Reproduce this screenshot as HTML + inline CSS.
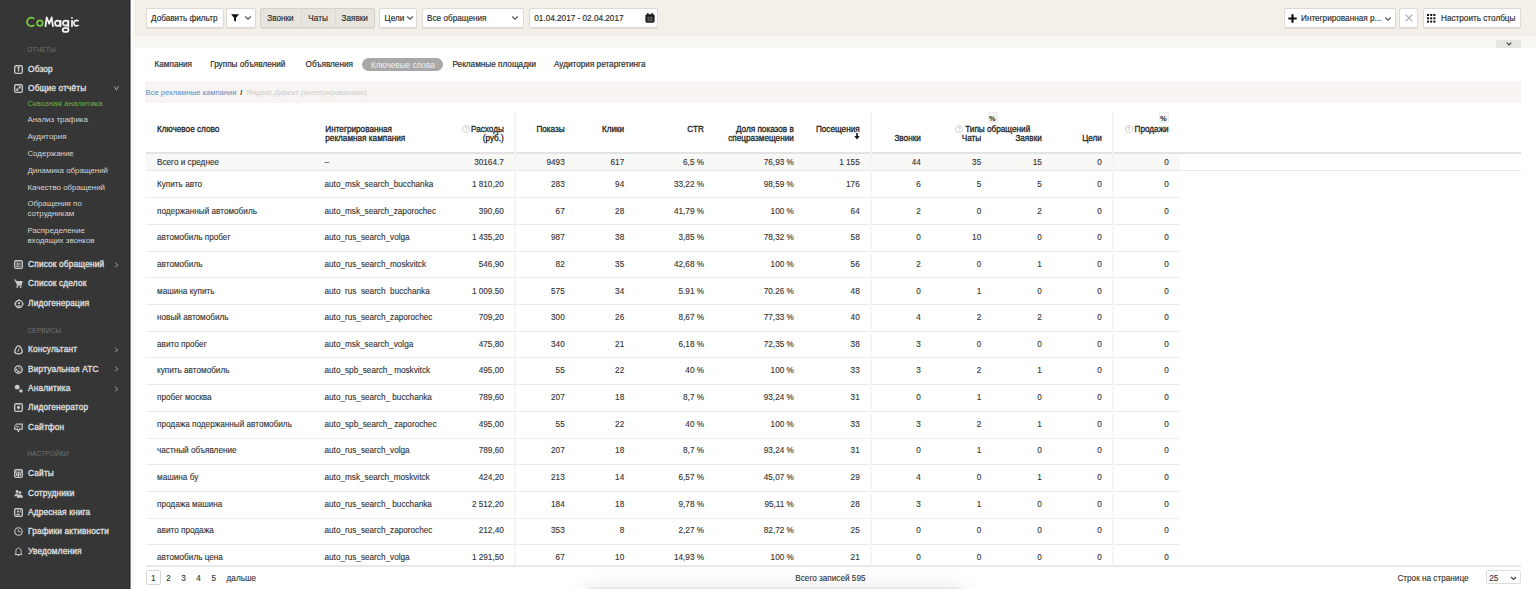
<!DOCTYPE html>
<html><head><meta charset="utf-8"><style>
html,body{margin:0;padding:0;}
body{width:1536px;height:589px;overflow:hidden;position:relative;background:#fff;font-family:"Liberation Sans", sans-serif;}
.t{position:absolute;white-space:nowrap;line-height:12px;height:12px;}
.r{text-align:right;}
.u{font-style:normal;color:transparent;-webkit-text-stroke:0 transparent;}
.d{color:#333;-webkit-text-stroke:0.12px #333;}
.h{color:#1e1e1e;-webkit-text-stroke:0.28px #1e1e1e;}
#sb{position:absolute;left:0;top:0;width:131px;height:589px;background:#363636;}
.logo{font-size:14.6px;line-height:18px;height:18px;letter-spacing:-0.2px;transform:scaleX(0.92);transform-origin:0 0;}
.logo span{-webkit-text-stroke:0.55px currentColor;}
.sec{color:#727272;letter-spacing:0.15px;}
.mi{color:#e0e0e0;-webkit-text-stroke:0.3px #e0e0e0;letter-spacing:0.15px;}
.si{color:#d3d3d3;}
.icon{position:absolute;width:9px;height:9px;}
.icon svg{display:block;}
.arr{position:absolute;}
#top{position:absolute;left:133.5px;top:0;width:1402.5px;height:35.7px;background:#f3f0e9;}
#band{position:absolute;left:133.5px;top:35.7px;width:1402.5px;height:12.3px;background:#f8f6f2;border-top:1.3px solid #fcfbf8;box-sizing:border-box;}
.grp{border-color:#d5d2ca !important;}
.btn{position:absolute;box-sizing:border-box;border:1px solid #dedad3;border-radius:2px;box-shadow:0 0.6px 0.8px rgba(0,0,0,0.08);}
.bt{color:#2a2a2a;-webkit-text-stroke:0.15px #2a2a2a;}
.tab{color:#2a2a2a;-webkit-text-stroke:0.18px #2a2a2a;}
.tabw{color:#f0f0f0;}
.bc{}
</style></head><body>
<div id="sb"></div><div style="position:absolute;left:129px;top:0;width:1.3px;height:589px;background:#2a2a2a"></div><div style="position:absolute;left:130.3px;top:0;width:0.9px;height:589px;background:#8a8a8a"></div><div style="position:absolute;left:131px;top:0;width:2.5px;height:589px;background:#fbfaf8"></div>
<svg width="131" height="40" viewBox="0 0 131 40" style="position:absolute;left:0;top:0"><g fill="none" stroke-width="1.75" stroke-linecap="butt" stroke-linejoin="round"><g stroke="#78c93c"><path d="M34.4 19.0 A4.25 4.25 0 1 0 34.4 24.8"/><circle cx="39.9" cy="23.1" r="2.85"/></g><g stroke="#f2f2f2"><path d="M45.4 26.9 L46.7 17.4 L49.2 23.8 L51.7 17.4 L53.0 26.9"/><circle cx="57.7" cy="23.2" r="2.7"/><path d="M60.5 20.1 V26.9"/><circle cx="65.6" cy="23.1" r="2.6"/><path d="M68.3 20.1 V27.5"/><ellipse cx="65.6" cy="29.9" rx="2.9" ry="2.0"/><path d="M72.0 20.1 V26.9"/><circle cx="72.0" cy="17.9" r="0.9" fill="#f2f2f2" stroke="none"/><path d="M78.6 21.2 A2.75 2.75 0 1 0 78.6 25.0"/></g></g></svg>
<div class="t sec" style="left:27.2px;top:44.00px;font-size:6.6px;">ОТЧЕТЫ</div>
<div class="icon" style="left:14px;top:64.70px"><svg width="9" height="9" viewBox="0 0 9 9"><rect x="0.7" y="0.7" width="7.6" height="7.6" rx="1.4" fill="none" stroke="#c9c9c9" stroke-width="1.35"/><path d="M3.4 2.6H5.6M4.5 2.6V6.5" fill="none" stroke="#c9c9c9" stroke-width="1.2"/></svg></div>
<div class="t mi" style="left:28.1px;top:63.00px;font-size:8.3px;">Обзор</div>
<div class="icon" style="left:14px;top:84.20px"><svg width="9" height="9" viewBox="0 0 9 9"><rect x="0.7" y="0.7" width="7.6" height="7.6" rx="1.4" fill="none" stroke="#c9c9c9" stroke-width="1.35"/><path d="M4.6 2.2H6.8V4.4H4.6ZM2.2 4.6H4.4V6.8H2.2Z" fill="#c9c9c9"/></svg></div>
<div class="t mi" style="left:28.1px;top:82.00px;font-size:8.3px;">Общие отчёты</div>
<svg class="arr" width="5" height="5" viewBox="0 0 5 5" style="left:113.6px;top:86.10px"><path d="M0.4 0.3L2.4 4.2L4.4 0.3" fill="none" stroke="#a5a5a5" stroke-width="0.95"/></svg>
<div class="t si" style="left:27.4px;top:98.00px;font-size:7.95px;color:#6cb33f">Сквозная аналитика</div>
<div class="t si" style="left:27.4px;top:114.00px;font-size:7.95px;">Анализ трафика</div>
<div class="t si" style="left:27.4px;top:131.00px;font-size:7.95px;">Аудитория</div>
<div class="t si" style="left:27.4px;top:148.00px;font-size:7.95px;">Содержание</div>
<div class="t si" style="left:27.4px;top:165.00px;font-size:7.95px;">Динамика обращений</div>
<div class="t si" style="left:27.4px;top:182.00px;font-size:7.95px;">Качество обращений</div>
<div class="t si" style="left:27.4px;top:198.00px;font-size:7.95px;">Обращения по</div>
<div class="t si" style="left:27.4px;top:208.00px;font-size:7.95px;">сотрудникам</div>
<div class="t si" style="left:27.4px;top:225.00px;font-size:7.95px;">Распределение</div>
<div class="t si" style="left:27.4px;top:235.00px;font-size:7.95px;">входящих звонков</div>
<div class="icon" style="left:14px;top:260.30px"><svg width="9" height="9" viewBox="0 0 9 9"><rect x="0.7" y="0.7" width="7.6" height="7.6" rx="1.4" fill="none" stroke="#c9c9c9" stroke-width="1.35"/><path d="M2 3.2H7M2 4.8H7M2 6.4H7M3.8 2.5V7.5" stroke="#c9c9c9" stroke-width="0.7"/></svg></div>
<div class="t mi" style="left:28.1px;top:258.00px;font-size:8.3px;">Список обращений</div>
<svg class="arr" width="5" height="6" viewBox="0 0 5 6" style="left:114px;top:261.80px"><path d="M0.8 0.8L4 3L0.8 5.2" fill="none" stroke="#9a9a9a" stroke-width="0.9"/></svg>
<div class="icon" style="left:14px;top:279.40px"><svg width="9" height="9" viewBox="0 0 9 9"><path d="M0.2 0.6H1.9L2.5 1.9H8.7L7.7 5.9H3.1Z" fill="#c9c9c9"/><rect x="2.2" y="6.3" width="5.4" height="0.9" fill="#c9c9c9"/><circle cx="3.3" cy="8.1" r="0.85" fill="#c9c9c9"/><circle cx="6.7" cy="8.1" r="0.85" fill="#c9c9c9"/></svg></div>
<div class="t mi" style="left:28.1px;top:277.00px;font-size:8.3px;">Список сделок</div>
<div class="icon" style="left:14px;top:298.90px"><svg width="10" height="10" viewBox="0 0 10 10"><circle cx="5" cy="5" r="3.6" fill="none" stroke="#c9c9c9" stroke-width="1.2"/><path d="M0 5L1.5 3.8V6.2ZM10 5L8.5 3.8V6.2ZM5 0L3.8 1.5H6.2Z" fill="#c9c9c9"/><circle cx="5" cy="4.2" r="1.1" fill="#c9c9c9"/><path d="M2.6 7.6C3 5.8 7 5.8 7.4 7.6Z" fill="#c9c9c9"/></svg></div>
<div class="t mi" style="left:28.1px;top:297.00px;font-size:8.3px;">Лидогенерация</div>
<div class="t sec" style="left:27.2px;top:325.00px;font-size:6.6px;">СЕРВИСЫ</div>
<div class="icon" style="left:14px;top:345.30px"><svg width="9" height="10" viewBox="0 0 9 10"><path d="M4.5 0.9C6.3 0.9 8.2 4.6 8.2 6.7C8.2 8.3 6.9 8.8 4.5 8.8S0.8 8.3 0.8 6.7C0.8 4.6 2.7 0.9 4.5 0.9Z" fill="none" stroke="#c9c9c9" stroke-width="1.35"/><path d="M5 3.4L3.9 6.8" stroke="#c9c9c9" stroke-width="0.9"/></svg></div>
<div class="t mi" style="left:28.1px;top:343.00px;font-size:8.3px;">Консультант</div>
<svg class="arr" width="5" height="6" viewBox="0 0 5 6" style="left:114px;top:346.80px"><path d="M0.8 0.8L4 3L0.8 5.2" fill="none" stroke="#9a9a9a" stroke-width="0.9"/></svg>
<div class="icon" style="left:14px;top:364.60px"><svg width="9" height="9" viewBox="0 0 9 9"><circle cx="4.5" cy="4.5" r="3.7" fill="none" stroke="#c9c9c9" stroke-width="1.35"/><path d="M2.4 3.6C2.8 5.6 4.2 6.6 5.8 6.7" fill="none" stroke="#c9c9c9" stroke-width="1.1"/><path d="M4.2 2.6C5.2 2.8 6.2 3.6 6.5 4.6" fill="none" stroke="#c9c9c9" stroke-width="0.8"/></svg></div>
<div class="t mi" style="left:28.1px;top:363.00px;font-size:8.3px;">Виртуальная АТС</div>
<svg class="arr" width="5" height="6" viewBox="0 0 5 6" style="left:114px;top:366.10px"><path d="M0.8 0.8L4 3L0.8 5.2" fill="none" stroke="#9a9a9a" stroke-width="0.9"/></svg>
<div class="icon" style="left:14px;top:384.10px"><svg width="9" height="9" viewBox="0 0 9 9"><circle cx="3.2" cy="3.2" r="2.4" fill="#c9c9c9"/><circle cx="6.9" cy="6.9" r="1.7" fill="#c9c9c9"/></svg></div>
<div class="t mi" style="left:28.1px;top:382.00px;font-size:8.3px;">Аналитика</div>
<svg class="arr" width="5" height="6" viewBox="0 0 5 6" style="left:114px;top:385.60px"><path d="M0.8 0.8L4 3L0.8 5.2" fill="none" stroke="#9a9a9a" stroke-width="0.9"/></svg>
<div class="icon" style="left:14px;top:403.40px"><svg width="9" height="9" viewBox="0 0 9 9"><rect x="0.7" y="0.7" width="7.6" height="7.6" rx="1.4" fill="none" stroke="#c9c9c9" stroke-width="1.35"/><path d="M4.5 2.2L6.3 4.5L4.5 6.8L2.7 4.5Z" fill="#c9c9c9"/></svg></div>
<div class="t mi" style="left:28.1px;top:401.00px;font-size:8.3px;">Лидогенератор</div>
<div class="icon" style="left:14px;top:422.90px"><svg width="9" height="9" viewBox="0 0 9 9"><path d="M2.2 1.2H8.2V6.2H5.4L4.4 8.4L3.4 6.2H0.8V3.6" fill="none" stroke="#c9c9c9" stroke-width="1.25"/><path d="M1 1.4L2.6 3.8H5.6" fill="none" stroke="#c9c9c9" stroke-width="1"/></svg></div>
<div class="t mi" style="left:28.1px;top:421.00px;font-size:8.3px;">Сайтфон</div>
<div class="t sec" style="left:27.2px;top:448.00px;font-size:6.6px;">НАСТРОЙКИ</div>
<div class="icon" style="left:14px;top:469.30px"><svg width="9" height="9" viewBox="0 0 9 9"><rect x="0.7" y="0.7" width="7.6" height="7.6" rx="1.4" fill="none" stroke="#c9c9c9" stroke-width="1.35"/><path d="M1 3.1H8M4.5 3.1V8" stroke="#c9c9c9" stroke-width="1"/><path d="M2 4.2H3.6V6.8H2ZM5.4 4.2H7V6.8H5.4Z" fill="#c9c9c9"/></svg></div>
<div class="t mi" style="left:28.1px;top:467.00px;font-size:8.3px;">Сайты</div>
<div class="icon" style="left:14px;top:488.80px"><svg width="9" height="9" viewBox="0 0 9 9"><circle cx="3.2" cy="2.5" r="1.6" fill="#c9c9c9"/><path d="M0.4 7.2C0.4 5 2 4.4 3.3 4.4C4 4.4 4.5 4.6 4.9 4.9L3.3 7.2Z" fill="#c9c9c9"/><circle cx="6" cy="3.6" r="1.75" fill="#363636"/><circle cx="6" cy="3.6" r="1.45" fill="#c9c9c9"/><path d="M2.8 8.7C2.8 6.5 4.3 5.6 6 5.6S9 6.5 9 8.7Z" fill="#c9c9c9"/></svg></div>
<div class="t mi" style="left:28.1px;top:487.00px;font-size:8.3px;">Сотрудники</div>
<div class="icon" style="left:14px;top:508.30px"><svg width="9" height="9" viewBox="0 0 9 9"><rect x="0.7" y="0.7" width="7.6" height="7.6" rx="1.4" fill="none" stroke="#c9c9c9" stroke-width="1.35"/><circle cx="4" cy="3.6" r="1.1" fill="#c9c9c9"/><path d="M2 7.2C2.2 5.4 5.8 5.4 6 7.2Z" fill="#c9c9c9"/><path d="M6.3 2.2V4.6" stroke="#c9c9c9" stroke-width="0.8"/></svg></div>
<div class="t mi" style="left:28.1px;top:506.00px;font-size:8.3px;">Адресная книга</div>
<div class="icon" style="left:14px;top:527.40px"><svg width="9" height="9" viewBox="0 0 9 9"><circle cx="4.5" cy="4.5" r="3.7" fill="none" stroke="#c9c9c9" stroke-width="1.1"/><path d="M4.3 2.3V4.7H6.5" fill="none" stroke="#c9c9c9" stroke-width="0.9"/></svg></div>
<div class="t mi" style="left:28.1px;top:525.00px;font-size:8.3px;">Графики активности</div>
<div class="icon" style="left:14px;top:547.00px"><svg width="9" height="9" viewBox="0 0 9 9"><path d="M1.9 6.9V4.1C1.9 2.3 3 1.1 4.5 1.1S7.1 2.3 7.1 4.1V6.9L8.1 7.6H0.9Z" fill="none" stroke="#c9c9c9" stroke-width="1"/><circle cx="4.5" cy="8.3" r="0.8" fill="#c9c9c9"/></svg></div>
<div class="t mi" style="left:28.1px;top:545.00px;font-size:8.3px;">Уведомления</div>
<div id="top"></div><div id="band"></div>
<div class="btn" style="left:145.6px;top:8.0px;width:78.60px;height:20.00px;background:#fff"></div>
<div class="t bt" style="left:151px;top:13.00px;font-size:8.2px;">Добавить фильтр</div>
<div class="btn" style="left:226px;top:8.0px;width:30.00px;height:20.00px;background:#fff"><svg width="8" height="8" viewBox="0 0 8 8" style="position:absolute;left:4.3px;top:4.6px"><path d="M0 0.3H8L5 3.8V7.8L3 6.6V3.8Z" fill="#111"/></svg><svg width="8" height="6" viewBox="0 0 8 6" style="position:absolute;left:17.2px;top:6.2px"><path d="M1.2 1.5L4 4.2L6.8 1.5" fill="none" stroke="#555" stroke-width="1.25"/></svg></div>
<div class="btn grp" style="left:260px;top:8.0px;width:115.00px;height:20.00px;background:#e7e4dd"><div style="position:absolute;left:40.2px;top:0;width:1px;height:100%;background:#dcd9d2"></div><div style="position:absolute;left:74.3px;top:0;width:1px;height:100%;background:#dcd9d2"></div></div>
<div class="t bt" style="left:267.2px;top:13.00px;font-size:8.2px;">Звонки</div>
<div class="t bt" style="left:308.3px;top:13.00px;font-size:8.2px;">Чаты</div>
<div class="t bt" style="left:341.5px;top:13.00px;font-size:8.2px;">Заявки</div>
<div class="btn" style="left:379px;top:8.0px;width:38.00px;height:20.00px;background:#fff"><svg width="8" height="6" viewBox="0 0 8 6" style="position:absolute;left:26.3px;top:6.2px"><path d="M1.2 1.5L4 4.2L6.8 1.5" fill="none" stroke="#555" stroke-width="1.25"/></svg></div>
<div class="t bt" style="left:384.6px;top:13.00px;font-size:8.2px;">Цели</div>
<div class="btn" style="left:422px;top:8.0px;width:102.40px;height:20.00px;background:#fff"><svg width="8" height="6" viewBox="0 0 8 6" style="position:absolute;left:88.3px;top:6.2px"><path d="M1.2 1.5L4 4.2L6.8 1.5" fill="none" stroke="#555" stroke-width="1.25"/></svg></div>
<div class="t bt" style="left:427px;top:13.00px;font-size:8.2px;">Все обращения</div>
<div class="btn" style="left:528.6px;top:8.0px;width:129.70px;height:20.00px;background:#fff"><svg width="10" height="10" viewBox="0 0 10 10" style="position:absolute;left:115.8px;top:3.6px"><rect x="0.4" y="1.2" width="9.2" height="8.5" rx="1.6" fill="#1a1a1a"/><rect x="2.2" y="0" width="1.3" height="2.4" fill="#1a1a1a"/><rect x="6.5" y="0" width="1.3" height="2.4" fill="#1a1a1a"/><path d="M1.8 4.3H8.2M1.8 6H8.2M1.8 7.7H8.2M3.9 3.5V8.6M6.1 3.5V8.6" stroke="#999" stroke-width="0.45"/></svg></div>
<div class="t bt" style="left:534.3px;top:13.00px;font-size:8.2px;">01.04.2017 - 02.04.2017</div>
<div class="btn" style="left:1283.8px;top:8.0px;width:112.70px;height:20.00px;background:#fff"><svg width="9" height="9" viewBox="0 0 9 9" style="position:absolute;left:3.4px;top:5.2px"><path d="M4.5 0.3V8.7M0.3 4.5H8.7" stroke="#111" stroke-width="2.2"/></svg><svg width="8" height="6" viewBox="0 0 8 6" style="position:absolute;left:99.7px;top:7.0px"><path d="M1.2 1.5L4 4.2L6.8 1.5" fill="none" stroke="#555" stroke-width="1.25"/></svg></div>
<div class="t bt" style="left:1301px;top:13.00px;font-size:8.2px;">Интегрированная р...</div>
<div class="btn" style="left:1398.5px;top:8.0px;width:19.20px;height:20.00px;background:#fff"><svg width="8" height="8" viewBox="0 0 8 8" style="position:absolute;left:5.5px;top:5.2px"><path d="M0.6 0.6L7.4 7.4M7.4 0.6L0.6 7.4" stroke="#aaa" stroke-width="1.1"/></svg></div>
<div class="btn" style="left:1422.5px;top:8.0px;width:98.50px;height:20.00px;background:#fff"><svg width="9" height="9" viewBox="0 0 9 9" style="position:absolute;left:3.8px;top:5.3px"><g fill="#111"><rect x="0" y="0" width="2" height="2"/><rect x="3.2" y="0" width="2" height="2"/><rect x="6.4" y="0" width="2" height="2"/><rect x="0" y="3.3" width="2" height="2"/><rect x="3.2" y="3.3" width="2" height="2"/><rect x="6.4" y="3.3" width="2" height="2"/><rect x="0" y="6.6" width="2" height="2"/><rect x="3.2" y="6.6" width="2" height="2"/><rect x="6.4" y="6.6" width="2" height="2"/></g></svg></div>
<div class="t bt" style="left:1441px;top:13.00px;font-size:8.2px;">Настроить столбцы</div>
<div style="position:absolute;left:1496px;top:39.8px;width:25px;height:8.2px;background:#e7e5e2"><svg width="6" height="4" viewBox="0 0 6 4" style="position:absolute;left:9.5px;top:2.2px"><path d="M0.7 0.7L3 3L5.3 0.7" fill="none" stroke="#444" stroke-width="1.2"/></svg></div>
<div class="t tab" style="left:154.5px;top:59.00px;font-size:8.2px;">Кампания</div>
<div class="t tab" style="left:210.2px;top:59.00px;font-size:8.2px;">Группы объявлений</div>
<div class="t tab" style="left:305.6px;top:59.00px;font-size:8.2px;">Объявления</div>
<div style="position:absolute;left:362.4px;top:57.9px;width:81px;height:13px;border-radius:6.5px;background:#a8a8a8"></div>
<div class="t tabw" style="left:371px;top:60.00px;font-size:8.2px;">Ключевые слова</div>
<div class="t tab" style="left:452.5px;top:59.00px;font-size:8.2px;">Рекламные площадки</div>
<div class="t tab" style="left:554px;top:59.00px;font-size:8.2px;">Аудитория ретаргетинга</div>
<div style="position:absolute;left:145px;top:80.6px;width:1376px;height:22.5px;background:#f7f4f1"></div>
<div class="t bc" style="left:145.6px;top:87.00px;font-size:7.6px;color:#5a8bca">Все рекламные кампании</div>
<div class="t bc" style="left:240.2px;top:87.00px;font-size:7.6px;color:#222;font-weight:700">/</div>
<div class="t bc" style="left:246.3px;top:87.00px;font-size:7.6px;color:#cdcdcd">Яндекс.Директ (интегрированная)</div>
<div style="position:absolute;left:146px;top:151.5px;width:1375px;height:2px;background:#e3e3e3"></div>
<div style="position:absolute;left:146px;top:153.5px;width:1034px;height:16.5px;background:#f8f8f7"></div>
<div style="position:absolute;left:146px;top:170px;width:1375px;height:1px;background:#e9e9e9"></div>
<div style="position:absolute;left:146px;top:197px;width:1034px;height:1px;background:#ececec"></div>
<div style="position:absolute;left:146px;top:224px;width:1034px;height:1px;background:#ececec"></div>
<div style="position:absolute;left:146px;top:251px;width:1034px;height:1px;background:#ececec"></div>
<div style="position:absolute;left:146px;top:277px;width:1034px;height:1px;background:#ececec"></div>
<div style="position:absolute;left:146px;top:304px;width:1034px;height:1px;background:#ececec"></div>
<div style="position:absolute;left:146px;top:331px;width:1034px;height:1px;background:#ececec"></div>
<div style="position:absolute;left:146px;top:357px;width:1034px;height:1px;background:#ececec"></div>
<div style="position:absolute;left:146px;top:384px;width:1034px;height:1px;background:#ececec"></div>
<div style="position:absolute;left:146px;top:411px;width:1034px;height:1px;background:#ececec"></div>
<div style="position:absolute;left:146px;top:438px;width:1034px;height:1px;background:#ececec"></div>
<div style="position:absolute;left:146px;top:464px;width:1034px;height:1px;background:#ececec"></div>
<div style="position:absolute;left:146px;top:491px;width:1034px;height:1px;background:#ececec"></div>
<div style="position:absolute;left:146px;top:518px;width:1034px;height:1px;background:#ececec"></div>
<div style="position:absolute;left:146px;top:544px;width:1034px;height:1px;background:#ececec"></div>
<div style="position:absolute;left:513.7px;top:112px;width:2px;height:454px;background:#f5f5f5"></div>
<div style="position:absolute;left:870.2px;top:112px;width:2px;height:454px;background:#f5f5f5"></div>
<div style="position:absolute;left:1111.6px;top:112px;width:2px;height:454px;background:#f5f5f5"></div>
<div class="t h" style="left:157px;top:124.00px;font-size:8.2px;">Ключевое слово</div>
<div class="t h" style="left:325.3px;top:124.00px;font-size:8.2px;">Интегрированная</div>
<div class="t h" style="left:325.3px;top:133.00px;font-size:8.2px;">рекламная кампания</div>
<div class="t r h" style="right:1032.20px;top:124.00px;font-size:8.2px;">Расходы</div>
<div class="t r h" style="right:1032.20px;top:133.00px;font-size:8.2px;">(руб.)</div>
<div class="t r h" style="right:971.30px;top:124.00px;font-size:8.2px;">Показы</div>
<div class="t r h" style="right:911.80px;top:124.00px;font-size:8.2px;">Клики</div>
<div class="t r h" style="right:832.00px;top:124.00px;font-size:8.2px;">CTR</div>
<div class="t r h" style="right:742.20px;top:124.00px;font-size:8.2px;">Доля показов в</div>
<div class="t r h" style="right:742.20px;top:133.00px;font-size:8.2px;">спецразмещении</div>
<div class="t r h" style="right:676.30px;top:124.00px;font-size:8.2px;">Посещения</div>
<div class="t r h" style="right:615.20px;top:133.00px;font-size:8.2px;">Звонки</div>
<div class="t r h" style="right:554.80px;top:133.00px;font-size:8.2px;">Чаты</div>
<div class="t r h" style="right:494.20px;top:133.00px;font-size:8.2px;">Заявки</div>
<div class="t r h" style="right:434.10px;top:133.00px;font-size:8.2px;">Цели</div>
<div class="t r h" style="right:367.30px;top:124.00px;font-size:8.2px;">Продажи</div>
<div class="t h" style="left:965.2px;top:124.00px;font-size:8.2px;">Типы обращений</div>
<div style="position:absolute;left:462.3px;top:124.70px;width:8px;height:8px;box-sizing:border-box;border:0.9px solid #d2d2d2;border-radius:50%;font:bold 5.5px/6.4px 'Liberation Sans';color:#c4c4c4;text-align:center">?</div>
<div style="position:absolute;left:955.2px;top:124.70px;width:8px;height:8px;box-sizing:border-box;border:0.9px solid #d2d2d2;border-radius:50%;font:bold 5.5px/6.4px 'Liberation Sans';color:#c4c4c4;text-align:center">?</div>
<div style="position:absolute;left:1124.6px;top:124.70px;width:8px;height:8px;box-sizing:border-box;border:0.9px solid #d2d2d2;border-radius:50%;font:bold 5.5px/6.4px 'Liberation Sans';color:#c4c4c4;text-align:center">?</div>
<div style="position:absolute;left:987.6px;top:111.5px;width:10.5px;height:11px;box-sizing:border-box;border:0.8px solid #ececec;background:#f6f6f6;border-radius:2px"></div>
<div class="t h" style="left:989.1px;top:113.00px;font-size:7.4px;font-weight:700;-webkit-text-stroke:0">%</div>
<div style="position:absolute;left:1158.5px;top:111.5px;width:10.5px;height:11px;box-sizing:border-box;border:0.8px solid #ececec;background:#f6f6f6;border-radius:2px"></div>
<div class="t h" style="left:1160.0px;top:113.00px;font-size:7.4px;font-weight:700;-webkit-text-stroke:0">%</div>
<svg width="6" height="7" viewBox="0 0 6 7" style="position:absolute;left:853.8px;top:133.2px"><path d="M3 0V3.8" stroke="#111" stroke-width="1.6"/><path d="M0.3 3.1H5.7L3 6.5Z" fill="#111"/></svg>
<div class="t d" style="left:157px;top:157.00px;font-size:8.2px;">Всего и среднее</div>
<div class="t d" style="left:324.5px;top:157.00px;font-size:8.2px;">–</div>
<div class="t r d" style="right:1032.20px;top:157.00px;font-size:8.2px;">30164.7</div>
<div class="t r d" style="right:971.30px;top:157.00px;font-size:8.2px;">9493</div>
<div class="t r d" style="right:911.80px;top:157.00px;font-size:8.2px;">617</div>
<div class="t r d" style="right:832.00px;top:157.00px;font-size:8.2px;">6,5 %</div>
<div class="t r d" style="right:742.20px;top:157.00px;font-size:8.2px;">76,93 %</div>
<div class="t r d" style="right:676.30px;top:157.00px;font-size:8.2px;">1 155</div>
<div class="t r d" style="right:615.20px;top:157.00px;font-size:8.2px;">44</div>
<div class="t r d" style="right:554.80px;top:157.00px;font-size:8.2px;">35</div>
<div class="t r d" style="right:494.20px;top:157.00px;font-size:8.2px;">15</div>
<div class="t r d" style="right:434.10px;top:157.00px;font-size:8.2px;">0</div>
<div class="t r d" style="right:367.30px;top:157.00px;font-size:8.2px;">0</div>
<div class="t d" style="left:157px;top:179.00px;font-size:8.2px;">Купить авто</div>
<div class="t d" style="left:324.5px;top:179.00px;font-size:8.2px;">auto_msk_search_bucchanka</div>
<div class="t r d" style="right:1032.20px;top:179.00px;font-size:8.2px;">1 810,20</div>
<div class="t r d" style="right:971.30px;top:179.00px;font-size:8.2px;">283</div>
<div class="t r d" style="right:911.80px;top:179.00px;font-size:8.2px;">94</div>
<div class="t r d" style="right:832.00px;top:179.00px;font-size:8.2px;">33,22 %</div>
<div class="t r d" style="right:742.20px;top:179.00px;font-size:8.2px;">98,59 %</div>
<div class="t r d" style="right:676.30px;top:179.00px;font-size:8.2px;">176</div>
<div class="t r d" style="right:615.20px;top:179.00px;font-size:8.2px;">6</div>
<div class="t r d" style="right:554.80px;top:179.00px;font-size:8.2px;">5</div>
<div class="t r d" style="right:494.20px;top:179.00px;font-size:8.2px;">5</div>
<div class="t r d" style="right:434.10px;top:179.00px;font-size:8.2px;">0</div>
<div class="t r d" style="right:367.30px;top:179.00px;font-size:8.2px;">0</div>
<div class="t d" style="left:157px;top:206.00px;font-size:8.2px;">подержанный автомобиль</div>
<div class="t d" style="left:324.5px;top:206.00px;font-size:8.2px;">auto_msk_search_zaporochec</div>
<div class="t r d" style="right:1032.20px;top:206.00px;font-size:8.2px;">390,60</div>
<div class="t r d" style="right:971.30px;top:206.00px;font-size:8.2px;">67</div>
<div class="t r d" style="right:911.80px;top:206.00px;font-size:8.2px;">28</div>
<div class="t r d" style="right:832.00px;top:206.00px;font-size:8.2px;">41,79 %</div>
<div class="t r d" style="right:742.20px;top:206.00px;font-size:8.2px;">100 %</div>
<div class="t r d" style="right:676.30px;top:206.00px;font-size:8.2px;">64</div>
<div class="t r d" style="right:615.20px;top:206.00px;font-size:8.2px;">2</div>
<div class="t r d" style="right:554.80px;top:206.00px;font-size:8.2px;">0</div>
<div class="t r d" style="right:494.20px;top:206.00px;font-size:8.2px;">2</div>
<div class="t r d" style="right:434.10px;top:206.00px;font-size:8.2px;">0</div>
<div class="t r d" style="right:367.30px;top:206.00px;font-size:8.2px;">0</div>
<div class="t d" style="left:157px;top:232.00px;font-size:8.2px;">автомобиль пробег</div>
<div class="t d" style="left:324.5px;top:232.00px;font-size:8.2px;">auto_rus_search_volga</div>
<div class="t r d" style="right:1032.20px;top:232.00px;font-size:8.2px;">1 435,20</div>
<div class="t r d" style="right:971.30px;top:232.00px;font-size:8.2px;">987</div>
<div class="t r d" style="right:911.80px;top:232.00px;font-size:8.2px;">38</div>
<div class="t r d" style="right:832.00px;top:232.00px;font-size:8.2px;">3,85 %</div>
<div class="t r d" style="right:742.20px;top:232.00px;font-size:8.2px;">78,32 %</div>
<div class="t r d" style="right:676.30px;top:232.00px;font-size:8.2px;">58</div>
<div class="t r d" style="right:615.20px;top:232.00px;font-size:8.2px;">0</div>
<div class="t r d" style="right:554.80px;top:232.00px;font-size:8.2px;">10</div>
<div class="t r d" style="right:494.20px;top:232.00px;font-size:8.2px;">0</div>
<div class="t r d" style="right:434.10px;top:232.00px;font-size:8.2px;">0</div>
<div class="t r d" style="right:367.30px;top:232.00px;font-size:8.2px;">0</div>
<div class="t d" style="left:157px;top:259.00px;font-size:8.2px;">автомобиль</div>
<div class="t d" style="left:324.5px;top:259.00px;font-size:8.2px;">auto_rus_search_moskvitck</div>
<div class="t r d" style="right:1032.20px;top:259.00px;font-size:8.2px;">546,90</div>
<div class="t r d" style="right:971.30px;top:259.00px;font-size:8.2px;">82</div>
<div class="t r d" style="right:911.80px;top:259.00px;font-size:8.2px;">35</div>
<div class="t r d" style="right:832.00px;top:259.00px;font-size:8.2px;">42,68 %</div>
<div class="t r d" style="right:742.20px;top:259.00px;font-size:8.2px;">100 %</div>
<div class="t r d" style="right:676.30px;top:259.00px;font-size:8.2px;">56</div>
<div class="t r d" style="right:615.20px;top:259.00px;font-size:8.2px;">2</div>
<div class="t r d" style="right:554.80px;top:259.00px;font-size:8.2px;">0</div>
<div class="t r d" style="right:494.20px;top:259.00px;font-size:8.2px;">1</div>
<div class="t r d" style="right:434.10px;top:259.00px;font-size:8.2px;">0</div>
<div class="t r d" style="right:367.30px;top:259.00px;font-size:8.2px;">0</div>
<div class="t d" style="left:157px;top:286.00px;font-size:8.2px;">машина купить</div>
<div class="t d" style="left:324.5px;top:286.00px;font-size:8.2px;">auto<i class=u>_</i>rus<i class=u>_</i>search<i class=u>_</i>bucchanka</div>
<div class="t r d" style="right:1032.20px;top:286.00px;font-size:8.2px;">1 009.50</div>
<div class="t r d" style="right:971.30px;top:286.00px;font-size:8.2px;">575</div>
<div class="t r d" style="right:911.80px;top:286.00px;font-size:8.2px;">34</div>
<div class="t r d" style="right:832.00px;top:286.00px;font-size:8.2px;">5.91 %</div>
<div class="t r d" style="right:742.20px;top:286.00px;font-size:8.2px;">70.26 %</div>
<div class="t r d" style="right:676.30px;top:286.00px;font-size:8.2px;">48</div>
<div class="t r d" style="right:615.20px;top:286.00px;font-size:8.2px;">0</div>
<div class="t r d" style="right:554.80px;top:286.00px;font-size:8.2px;">1</div>
<div class="t r d" style="right:494.20px;top:286.00px;font-size:8.2px;">0</div>
<div class="t r d" style="right:434.10px;top:286.00px;font-size:8.2px;">0</div>
<div class="t r d" style="right:367.30px;top:286.00px;font-size:8.2px;">0</div>
<div class="t d" style="left:157px;top:312.00px;font-size:8.2px;">новый автомобиль</div>
<div class="t d" style="left:324.5px;top:312.00px;font-size:8.2px;">auto_rus_search_zaporochec</div>
<div class="t r d" style="right:1032.20px;top:312.00px;font-size:8.2px;">709,20</div>
<div class="t r d" style="right:971.30px;top:312.00px;font-size:8.2px;">300</div>
<div class="t r d" style="right:911.80px;top:312.00px;font-size:8.2px;">26</div>
<div class="t r d" style="right:832.00px;top:312.00px;font-size:8.2px;">8,67 %</div>
<div class="t r d" style="right:742.20px;top:312.00px;font-size:8.2px;">77,33 %</div>
<div class="t r d" style="right:676.30px;top:312.00px;font-size:8.2px;">40</div>
<div class="t r d" style="right:615.20px;top:312.00px;font-size:8.2px;">4</div>
<div class="t r d" style="right:554.80px;top:312.00px;font-size:8.2px;">2</div>
<div class="t r d" style="right:494.20px;top:312.00px;font-size:8.2px;">2</div>
<div class="t r d" style="right:434.10px;top:312.00px;font-size:8.2px;">0</div>
<div class="t r d" style="right:367.30px;top:312.00px;font-size:8.2px;">0</div>
<div class="t d" style="left:157px;top:339.00px;font-size:8.2px;">авито пробег</div>
<div class="t d" style="left:324.5px;top:339.00px;font-size:8.2px;">auto_msk_search_volga</div>
<div class="t r d" style="right:1032.20px;top:339.00px;font-size:8.2px;">475,80</div>
<div class="t r d" style="right:971.30px;top:339.00px;font-size:8.2px;">340</div>
<div class="t r d" style="right:911.80px;top:339.00px;font-size:8.2px;">21</div>
<div class="t r d" style="right:832.00px;top:339.00px;font-size:8.2px;">6,18 %</div>
<div class="t r d" style="right:742.20px;top:339.00px;font-size:8.2px;">72,35 %</div>
<div class="t r d" style="right:676.30px;top:339.00px;font-size:8.2px;">38</div>
<div class="t r d" style="right:615.20px;top:339.00px;font-size:8.2px;">3</div>
<div class="t r d" style="right:554.80px;top:339.00px;font-size:8.2px;">0</div>
<div class="t r d" style="right:494.20px;top:339.00px;font-size:8.2px;">0</div>
<div class="t r d" style="right:434.10px;top:339.00px;font-size:8.2px;">0</div>
<div class="t r d" style="right:367.30px;top:339.00px;font-size:8.2px;">0</div>
<div class="t d" style="left:157px;top:365.00px;font-size:8.2px;">купить автомобиль</div>
<div class="t d" style="left:324.5px;top:365.00px;font-size:8.2px;">auto_spb_search_ moskvitck</div>
<div class="t r d" style="right:1032.20px;top:365.00px;font-size:8.2px;">495,00</div>
<div class="t r d" style="right:971.30px;top:365.00px;font-size:8.2px;">55</div>
<div class="t r d" style="right:911.80px;top:365.00px;font-size:8.2px;">22</div>
<div class="t r d" style="right:832.00px;top:365.00px;font-size:8.2px;">40 %</div>
<div class="t r d" style="right:742.20px;top:365.00px;font-size:8.2px;">100 %</div>
<div class="t r d" style="right:676.30px;top:365.00px;font-size:8.2px;">33</div>
<div class="t r d" style="right:615.20px;top:365.00px;font-size:8.2px;">3</div>
<div class="t r d" style="right:554.80px;top:365.00px;font-size:8.2px;">2</div>
<div class="t r d" style="right:494.20px;top:365.00px;font-size:8.2px;">1</div>
<div class="t r d" style="right:434.10px;top:365.00px;font-size:8.2px;">0</div>
<div class="t r d" style="right:367.30px;top:365.00px;font-size:8.2px;">0</div>
<div class="t d" style="left:157px;top:392.00px;font-size:8.2px;">пробег москва</div>
<div class="t d" style="left:324.5px;top:392.00px;font-size:8.2px;">auto_rus_search_ bucchanka</div>
<div class="t r d" style="right:1032.20px;top:392.00px;font-size:8.2px;">789,60</div>
<div class="t r d" style="right:971.30px;top:392.00px;font-size:8.2px;">207</div>
<div class="t r d" style="right:911.80px;top:392.00px;font-size:8.2px;">18</div>
<div class="t r d" style="right:832.00px;top:392.00px;font-size:8.2px;">8,7 %</div>
<div class="t r d" style="right:742.20px;top:392.00px;font-size:8.2px;">93,24 %</div>
<div class="t r d" style="right:676.30px;top:392.00px;font-size:8.2px;">31</div>
<div class="t r d" style="right:615.20px;top:392.00px;font-size:8.2px;">0</div>
<div class="t r d" style="right:554.80px;top:392.00px;font-size:8.2px;">1</div>
<div class="t r d" style="right:494.20px;top:392.00px;font-size:8.2px;">0</div>
<div class="t r d" style="right:434.10px;top:392.00px;font-size:8.2px;">0</div>
<div class="t r d" style="right:367.30px;top:392.00px;font-size:8.2px;">0</div>
<div class="t d" style="left:157px;top:419.00px;font-size:8.2px;">продажа подержанный автомобиль</div>
<div class="t d" style="left:324.5px;top:419.00px;font-size:8.2px;">auto_spb_search_ zaporochec</div>
<div class="t r d" style="right:1032.20px;top:419.00px;font-size:8.2px;">495,00</div>
<div class="t r d" style="right:971.30px;top:419.00px;font-size:8.2px;">55</div>
<div class="t r d" style="right:911.80px;top:419.00px;font-size:8.2px;">22</div>
<div class="t r d" style="right:832.00px;top:419.00px;font-size:8.2px;">40 %</div>
<div class="t r d" style="right:742.20px;top:419.00px;font-size:8.2px;">100 %</div>
<div class="t r d" style="right:676.30px;top:419.00px;font-size:8.2px;">33</div>
<div class="t r d" style="right:615.20px;top:419.00px;font-size:8.2px;">3</div>
<div class="t r d" style="right:554.80px;top:419.00px;font-size:8.2px;">2</div>
<div class="t r d" style="right:494.20px;top:419.00px;font-size:8.2px;">1</div>
<div class="t r d" style="right:434.10px;top:419.00px;font-size:8.2px;">0</div>
<div class="t r d" style="right:367.30px;top:419.00px;font-size:8.2px;">0</div>
<div class="t d" style="left:157px;top:445.00px;font-size:8.2px;">частный объявление</div>
<div class="t d" style="left:324.5px;top:445.00px;font-size:8.2px;">auto_rus_search_volga</div>
<div class="t r d" style="right:1032.20px;top:445.00px;font-size:8.2px;">789,60</div>
<div class="t r d" style="right:971.30px;top:445.00px;font-size:8.2px;">207</div>
<div class="t r d" style="right:911.80px;top:445.00px;font-size:8.2px;">18</div>
<div class="t r d" style="right:832.00px;top:445.00px;font-size:8.2px;">8,7 %</div>
<div class="t r d" style="right:742.20px;top:445.00px;font-size:8.2px;">93,24 %</div>
<div class="t r d" style="right:676.30px;top:445.00px;font-size:8.2px;">31</div>
<div class="t r d" style="right:615.20px;top:445.00px;font-size:8.2px;">0</div>
<div class="t r d" style="right:554.80px;top:445.00px;font-size:8.2px;">1</div>
<div class="t r d" style="right:494.20px;top:445.00px;font-size:8.2px;">0</div>
<div class="t r d" style="right:434.10px;top:445.00px;font-size:8.2px;">0</div>
<div class="t r d" style="right:367.30px;top:445.00px;font-size:8.2px;">0</div>
<div class="t d" style="left:157px;top:472.00px;font-size:8.2px;">машина бу</div>
<div class="t d" style="left:324.5px;top:472.00px;font-size:8.2px;">auto_msk_search_moskvitck</div>
<div class="t r d" style="right:1032.20px;top:472.00px;font-size:8.2px;">424,20</div>
<div class="t r d" style="right:971.30px;top:472.00px;font-size:8.2px;">213</div>
<div class="t r d" style="right:911.80px;top:472.00px;font-size:8.2px;">14</div>
<div class="t r d" style="right:832.00px;top:472.00px;font-size:8.2px;">6,57 %</div>
<div class="t r d" style="right:742.20px;top:472.00px;font-size:8.2px;">45,07 %</div>
<div class="t r d" style="right:676.30px;top:472.00px;font-size:8.2px;">29</div>
<div class="t r d" style="right:615.20px;top:472.00px;font-size:8.2px;">4</div>
<div class="t r d" style="right:554.80px;top:472.00px;font-size:8.2px;">0</div>
<div class="t r d" style="right:494.20px;top:472.00px;font-size:8.2px;">1</div>
<div class="t r d" style="right:434.10px;top:472.00px;font-size:8.2px;">0</div>
<div class="t r d" style="right:367.30px;top:472.00px;font-size:8.2px;">0</div>
<div class="t d" style="left:157px;top:499.00px;font-size:8.2px;">продажа машина</div>
<div class="t d" style="left:324.5px;top:499.00px;font-size:8.2px;">auto_rus_search_ bucchanka</div>
<div class="t r d" style="right:1032.20px;top:499.00px;font-size:8.2px;">2 512,20</div>
<div class="t r d" style="right:971.30px;top:499.00px;font-size:8.2px;">184</div>
<div class="t r d" style="right:911.80px;top:499.00px;font-size:8.2px;">18</div>
<div class="t r d" style="right:832.00px;top:499.00px;font-size:8.2px;">9,78 %</div>
<div class="t r d" style="right:742.20px;top:499.00px;font-size:8.2px;">95,11 %</div>
<div class="t r d" style="right:676.30px;top:499.00px;font-size:8.2px;">28</div>
<div class="t r d" style="right:615.20px;top:499.00px;font-size:8.2px;">3</div>
<div class="t r d" style="right:554.80px;top:499.00px;font-size:8.2px;">1</div>
<div class="t r d" style="right:494.20px;top:499.00px;font-size:8.2px;">0</div>
<div class="t r d" style="right:434.10px;top:499.00px;font-size:8.2px;">0</div>
<div class="t r d" style="right:367.30px;top:499.00px;font-size:8.2px;">0</div>
<div class="t d" style="left:157px;top:525.00px;font-size:8.2px;">авито продажа</div>
<div class="t d" style="left:324.5px;top:525.00px;font-size:8.2px;">auto_rus_search_zaporochec</div>
<div class="t r d" style="right:1032.20px;top:525.00px;font-size:8.2px;">212,40</div>
<div class="t r d" style="right:971.30px;top:525.00px;font-size:8.2px;">353</div>
<div class="t r d" style="right:911.80px;top:525.00px;font-size:8.2px;">8</div>
<div class="t r d" style="right:832.00px;top:525.00px;font-size:8.2px;">2,27 %</div>
<div class="t r d" style="right:742.20px;top:525.00px;font-size:8.2px;">82,72 %</div>
<div class="t r d" style="right:676.30px;top:525.00px;font-size:8.2px;">25</div>
<div class="t r d" style="right:615.20px;top:525.00px;font-size:8.2px;">0</div>
<div class="t r d" style="right:554.80px;top:525.00px;font-size:8.2px;">0</div>
<div class="t r d" style="right:494.20px;top:525.00px;font-size:8.2px;">0</div>
<div class="t r d" style="right:434.10px;top:525.00px;font-size:8.2px;">0</div>
<div class="t r d" style="right:367.30px;top:525.00px;font-size:8.2px;">0</div>
<div class="t d" style="left:157px;top:552.00px;font-size:8.2px;">автомобиль цена</div>
<div class="t d" style="left:324.5px;top:552.00px;font-size:8.2px;">auto_rus_search_volga</div>
<div class="t r d" style="right:1032.20px;top:552.00px;font-size:8.2px;">1 291,50</div>
<div class="t r d" style="right:971.30px;top:552.00px;font-size:8.2px;">67</div>
<div class="t r d" style="right:911.80px;top:552.00px;font-size:8.2px;">10</div>
<div class="t r d" style="right:832.00px;top:552.00px;font-size:8.2px;">14,93 %</div>
<div class="t r d" style="right:742.20px;top:552.00px;font-size:8.2px;">100 %</div>
<div class="t r d" style="right:676.30px;top:552.00px;font-size:8.2px;">21</div>
<div class="t r d" style="right:615.20px;top:552.00px;font-size:8.2px;">0</div>
<div class="t r d" style="right:554.80px;top:552.00px;font-size:8.2px;">0</div>
<div class="t r d" style="right:494.20px;top:552.00px;font-size:8.2px;">0</div>
<div class="t r d" style="right:434.10px;top:552.00px;font-size:8.2px;">0</div>
<div class="t r d" style="right:367.30px;top:552.00px;font-size:8.2px;">0</div>
<div style="position:absolute;left:133.5px;top:565.5px;width:1402.5px;height:24px;background:#fff"></div>
<div style="position:absolute;left:146px;top:565px;width:1375px;height:2px;background:#e8e8e8"></div>
<div style="position:absolute;left:586px;top:589.3px;width:377px;height:20px;border-radius:6px;box-shadow:0 0 3px 0.5px rgba(0,0,0,0.13), 0 0 20px 4px rgba(0,0,0,0.075)"></div>
<div style="position:absolute;left:145.5px;top:570px;width:15px;height:15px;box-sizing:border-box;border:1px solid #d3d3d3;border-radius:1.5px;background:#fff"></div>
<div class="t d" style="left:151.0px;top:573.00px;font-size:8.2px;">1</div>
<div class="t d" style="left:166.2px;top:573.00px;font-size:8.2px;">2</div>
<div class="t d" style="left:181.3px;top:573.00px;font-size:8.2px;">3</div>
<div class="t d" style="left:196.3px;top:573.00px;font-size:8.2px;">4</div>
<div class="t d" style="left:211.4px;top:573.00px;font-size:8.2px;">5</div>
<div class="t d" style="left:226.6px;top:573.00px;font-size:8.2px;">дальше</div>
<div class="t d" style="left:795.3px;top:573.00px;font-size:8.2px;">Всего записей 595</div>
<div class="t d" style="left:1397.4px;top:573.00px;font-size:8.2px;">Строк на странице</div>
<div style="position:absolute;left:1486px;top:570.2px;width:35.2px;height:14.2px;box-sizing:border-box;border:1px solid #dedede;border-radius:2px;background:#fff"></div>
<div class="t d" style="left:1489.3px;top:573.00px;font-size:8.2px;">25</div>
<svg width="7" height="5" viewBox="0 0 7 5" style="position:absolute;left:1510.3px;top:575.5px"><path d="M1 1L3.5 3.5L6 1" fill="none" stroke="#444" stroke-width="1.2"/></svg>
</body></html>
